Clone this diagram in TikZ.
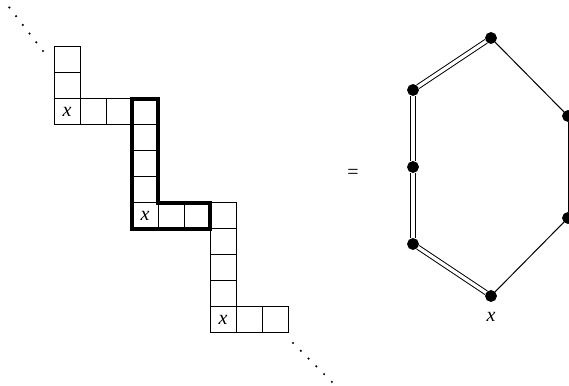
\documentclass[tikz,border=0pt]{standalone}
\usepackage{fontspec}
\setmainfont{Liberation Serif}
\tikzset{
  cell/.style={
    rectangle, draw=black, line width=0.5pt, inner sep=0pt, outer sep=0pt,
    minimum size=13pt
  },
  thick frame/.style={
    draw=black, line width=2.2pt, line join=miter
  },
  dot trail/.style={
    draw=black, line width=1.2pt, line cap=round, dash pattern=on 0pt off 5.5pt
  },
  vertex dot/.style={
    circle, fill=black, draw=black, inner sep=0pt, minimum size=5.5pt
  },
  double edge/.style={
    draw=black, line width=0.5pt, double=white, double distance=1.6pt
  },
  single edge/.style={
    draw=black, line width=0.5pt
  }
}
\begin{document}
\begin{tikzpicture}[x=0.5pt,y=0.5pt]
\useasboundingbox (0,0) rectangle (569,386);

% 左：阶梯状格子链（三段，中间一段加粗框）
\begin{scope}[shift={(41,14)}]
  \node[cell] (a1) at ( 26,312) {};
  \node[cell] (a2) at ( 26,286) {};
  \node[cell] (a3) at ( 26,260) {\textit{x}};
  \node[cell] (a4) at ( 52,260) {};
  \node[cell] (a5) at ( 78,260) {};

  \node[cell] (b1) at (104,260) {};
  \node[cell] (b2) at (104,234) {};
  \node[cell] (b3) at (104,208) {};
  \node[cell] (b4) at (104,182) {};
  \node[cell] (b5) at (104,156) {\textit{x}};
  \node[cell] (b6) at (130,156) {};
  \node[cell] (b7) at (156,156) {};

  \node[cell] (c1) at (182,156) {};
  \node[cell] (c2) at (182,130) {};
  \node[cell] (c3) at (182,104) {};
  \node[cell] (c4) at (182, 78) {};
  \node[cell] (c5) at (182, 52) {\textit{x}};
  \node[cell] (c6) at (208, 52) {};
  \node[cell] (c7) at (234, 52) {};

  \draw[thick frame] (b1.north west) -- (b1.north east) -- (b5.north east)
    -- (b7.north east) -- (b7.south east) -- (b5.south west) -- cycle;

  \coordinate (u0) at (2,321);
  \coordinate (u1) at (-32.4,365.5);
  \coordinate (l0) at (252,29);
  \coordinate (l1) at (291.6,-10.6);
  \draw[dot trail] (u0) -- (u1);
  \draw[dot trail] (l0) -- (l1);
\end{scope}

\node (eq) at (353,212) {=};

% 右：六边形，左侧三条双线
\begin{scope}[shift={(491,219)}]
  \node[vertex dot] (h1) at (  0, 129) {};
  \node[vertex dot] (h2) at (-78,  77) {};
  \node[vertex dot] (h3) at (-78,   0) {};
  \node[vertex dot] (h4) at (-78, -77) {};
  \node[vertex dot] (h5) at (  0,-129) {};
  \node[vertex dot] (h6) at ( 77, -51) {};
  \node[vertex dot] (h7) at ( 77,  51) {};

  \draw[double edge] (h1) -- (h2);
  \draw[double edge] (h2) -- (h3);
  \draw[double edge] (h3) -- (h4);
  \draw[double edge] (h4) -- (h5);
  \draw[single edge] (h5) -- (h6);
  \draw[single edge] (h6) -- (h7);
  \draw[single edge] (h7) -- (h1);
  \node (hx) at (0,-150) {\textit{x}};
\end{scope}

\end{tikzpicture}
\end{document}
